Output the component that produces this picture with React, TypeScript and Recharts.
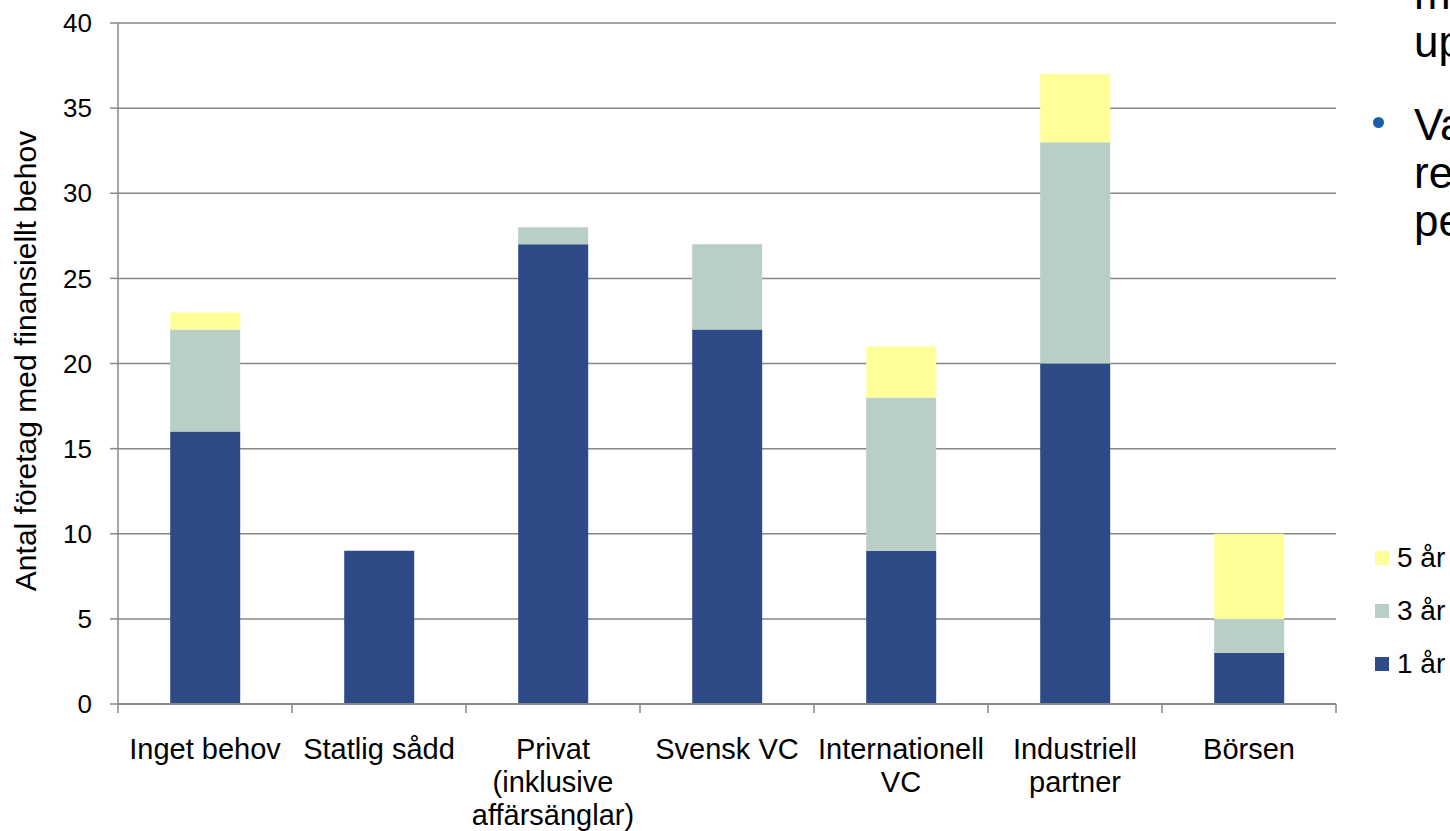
import React from "react";
import { BarChart, Bar, XAxis, YAxis, CartesianGrid, Legend, Label } from "recharts";

const categories = [
  "Inget behov",
  "Statlig sådd",
  "Privat\n(inklusive\naffärsänglar)",
  "Svensk VC",
  "Internationell\nVC",
  "Industriell\npartner",
  "Börsen",
];
const ettAr = [16, 9, 27, 22, 9, 20, 3];
const treAr = [6, 0, 1, 5, 9, 13, 2];
const femAr = [1, 0, 0, 0, 3, 4, 5];
const yTicks = [0, 5, 10, 15, 20, 25, 30, 35, 40];
// positions on a 0..7 scale: integers are category borders, halves are category centres
const xPosTicks = [0, 0.5, 1, 1.5, 2, 2.5, 3, 3.5, 4, 4.5, 5, 5.5, 6, 6.5, 7];
const yLabel = "Antal företag med finansiellt behov";
const sideLines = ["m", "up", "Va", "re", "pe"];

const data = categories.map((c, i) => ({
  name: c,
  pos: i + 0.5,
  ett: ettAr[i],
  tre: treAr[i],
  fem: femAr[i],
}));

const FONT = "'Liberation Sans', Arial, sans-serif";
const GRID = "#888888";

const PosTick = (props: any) => {
  const { x, y, payload } = props;
  const v = Number(payload.value);
  if (Number.isInteger(v)) {
    return <line x1={x} x2={x} y1={y} y2={y + 9} stroke={GRID} strokeWidth={1.5} />;
  }
  const label = categories[Math.floor(v)] || "";
  const lines = label.split("\n");
  return (
    <text x={x} y={y} textAnchor="middle" fontSize={29} fill="#000" fontFamily={FONT}>
      {lines.map((l: string, i: number) => (
        <tspan key={i} x={x} y={y + 55 + i * 33}>
          {l}
        </tspan>
      ))}
    </text>
  );
};

const LegendContent = (props: any) => {
  const items = [...(props.payload || [])].reverse();
  return (
    <div style={{ fontFamily: FONT, fontSize: 28, color: "#000" }}>
      {items.map((it: any, i: number) => (
        <div key={i} style={{ display: "flex", alignItems: "center", height: 53 }}>
          <span style={{ width: 14, height: 14, background: it.color, display: "inline-block", marginRight: 8 }} />
          <span>{it.value}</span>
        </div>
      ))}
    </div>
  );
};

export default function App() {
  return (
    <div
      style={{
        position: "fixed",
        left: 0,
        top: 0,
        width: 1450,
        height: 831,
        overflow: "hidden",
        background: "#fff",
        fontFamily: FONT,
      }}
    >
      <BarChart
        width={1450}
        height={831}
        data={data}
        margin={{ top: 23, right: 114, left: 0, bottom: 0 }}
        barCategoryGap="30%"
      >
        <CartesianGrid vertical={false} stroke={GRID} strokeWidth={1.5} />
        <XAxis xAxisId="cat" dataKey="name" hide height={0} />
        <XAxis
          xAxisId="pos"
          dataKey="pos"
          type="number"
          domain={[0, 7]}
          ticks={xPosTicks}
          interval={0}
          allowDataOverflow
          height={127}
          tickSize={0}
          tickMargin={0}
          tickLine={false}
          axisLine={{ stroke: GRID, strokeWidth: 2 }}
          tick={<PosTick />}
        />
        <YAxis
          width={118}
          domain={[0, 40]}
          ticks={yTicks}
          interval={0}
          tickSize={8}
          tickMargin={18}
          axisLine={{ stroke: GRID, strokeWidth: 1.5 }}
          tickLine={{ stroke: GRID, strokeWidth: 1.5 }}
          tick={{ fontSize: 26, fill: "#000", fontFamily: FONT }}
        >
          <Label
            content={() => (
              <text
                x={36}
                y={361}
                transform="rotate(-90 36 361)"
                textAnchor="middle"
                fontSize={30}
                fill="#000"
                fontFamily={FONT}
              >
                {yLabel}
              </text>
            )}
          />
        </YAxis>
        <Legend
          layout="horizontal"
          verticalAlign="middle"
          align="center"
          content={<LegendContent />}
          wrapperStyle={{ position: "absolute", left: 1375, top: 531, width: 80, height: 160 }}
        />
        <Bar xAxisId="cat" dataKey="ett" name="1 år" stackId="a" fill="#2E4A87" isAnimationActive={false} />
        <Bar xAxisId="cat" dataKey="tre" name="3 år" stackId="a" fill="#B9CFC6" isAnimationActive={false} />
        <Bar xAxisId="cat" dataKey="fem" name="5 år" stackId="a" fill="#FFFF99" isAnimationActive={false} />
      </BarChart>
      <div
        style={{
          position: "absolute",
          left: 1373,
          top: 117,
          width: 11,
          height: 11,
          borderRadius: "50%",
          background: "#1A5DAB",
        }}
      />
      {sideLines.map((t, i) => {
        const baselines = [9, 57, 140, 188, 236];
        return (
          <div
            key={i}
            style={{
              position: "absolute",
              left: 1414,
              top: baselines[i] - 40,
              fontSize: 44,
              lineHeight: "50px",
              height: 50,
              color: "#000",
              whiteSpace: "nowrap",
              fontFamily: FONT,
            }}
          >
            {t}
          </div>
        );
      })}
    </div>
  );
}
